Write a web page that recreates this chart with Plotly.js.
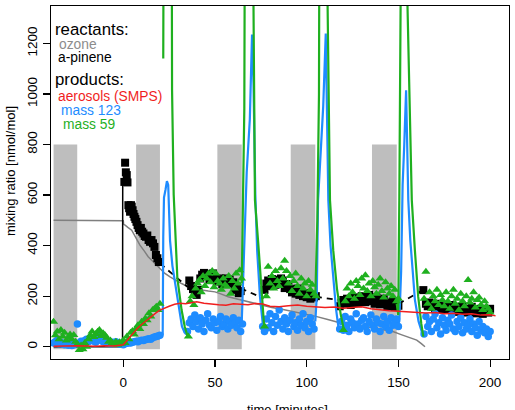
<!DOCTYPE html>
<html>
<head>
<meta charset="utf-8">
<script src="https://cdn.plot.ly/plotly-3.0.1.min.js"></script>
<style>
  html, body { margin: 0; padding: 0; background: #fff; }
  #chart { width: 515px; height: 410px; }
</style>
</head>
<body>
<div id="chart"></div>
<script>
// ---- gray phases (minutes) ----
const bandStart = [-38, 7, 51.3, 91.3, 135.6];
const bandEnd   = [-25.1, 20, 64.6, 104.7, 149.1];
const bandLow = -10, bandHigh = 800;

// ---- ozone (gray line) ----
const ozT = [-38, 0, 0.2, 1, 2.5, 4.6, 7, 9.1, 11.5, 13.6, 15.5, 17.3, 20, 22.7, 25.5, 28.2, 31.8, 35.4, 39, 42.7, 46.4, 50, 53.5, 57.2, 62.6, 68.1, 71.7, 75.4, 81, 86.5, 92, 98.5, 105, 111.5, 118, 125.5, 133, 140, 147, 151.5, 156, 160, 162.5, 164.5];
const ozV = [500, 498, 484, 481, 472, 461, 430, 402, 378, 356, 342, 330, 308, 290, 276, 264, 250, 237, 230, 224, 220, 217, 208, 198, 188, 178, 171, 165, 155, 148, 140, 130, 120, 108, 95, 88, 79, 70, 60, 48, 38, 26, 12, 0];

// ---- a-pinene: injection step, interpolated gaps, measurements ----
const apStepT = [-38, -0.4, -0.3];
const apStepV = [0, 0, 640];
const apGapT = [20, 35, 36, 64, 76.5, 77, 105, 117, 118, 150, 163.5];
const apGapV = [330, 237, null, 231, 191, null, 198, 185, null, 170, 224];

const apT1 = [0.6, 1.0, 1.4, 1.9, 2.3, 2.8, 3.2, 3.7, 4.2, 4.6, 5.1, 5.6, 6.1, 6.6, 7.2, 7.8, 8.4, 9.0, 9.6, 10.3, 11.0, 11.7, 12.4, 13.1, 13.8, 14.6, 15.4, 16.2, 17.0, 17.8, 18.6, 19.4];
const apV1 = [652, 728, 690, 679, 650, 560, 548, 534, 560, 554, 540, 525, 514, 505, 494, 481, 470, 461, 470, 455, 448, 438, 435, 440, 422, 415, 422, 409, 395, 363, 350, 335];
const apT2 = [36, 37, 38, 39, 40, 41, 42, 43, 44, 45, 46, 47, 48, 49, 50, 51, 52, 53, 54, 55, 56, 57, 58, 59, 60, 61, 62, 63, 64];
const apV2 = [262, 240, 228, 218, 205, 225, 270, 285, 292, 280, 288, 265, 282, 290, 272, 258, 266, 270, 248, 262, 270, 258, 266, 250, 255, 225, 238, 212, 220];
const apT3 = [77, 78, 79, 80, 81, 82, 83, 84, 85, 86, 87, 88, 89, 90, 91, 92, 93, 94, 95, 96, 97, 98, 99, 100, 101, 102, 103, 104, 105];
const apV3 = [225, 250, 262, 240, 268, 255, 245, 265, 258, 270, 262, 232, 248, 240, 228, 215, 222, 210, 230, 205, 218, 200, 212, 196, 208, 190, 205, 195, 200];
const apT4 = [118, 119, 120, 121, 122, 123, 124, 125, 126, 127, 128, 129, 130, 131, 132, 133, 134, 135, 136, 137, 138, 139, 140, 141, 142, 143, 144, 145, 146, 147, 148, 149, 150];
const apV4 = [160, 175, 185, 170, 190, 178, 165, 182, 195, 180, 172, 188, 200, 185, 176, 192, 205, 188, 180, 170, 195, 182, 168, 178, 190, 172, 160, 175, 165, 180, 158, 170, 162];
const apT5 = [163.6, 165, 166, 167, 168, 169, 170, 171, 172, 173, 174, 175, 176, 177, 178, 179, 180, 181, 182, 183, 184, 185, 186, 187, 188, 189, 190, 191, 192, 193, 194, 195, 196, 197, 198, 199, 200];
const apV5 = [224, 170, 160, 175, 165, 158, 150, 162, 170, 155, 148, 160, 152, 145, 165, 150, 140, 158, 148, 138, 155, 160, 145, 135, 150, 142, 158, 140, 132, 148, 138, 150, 130, 145, 140, 135, 150];

// ---- aerosols (SMPS), red line ----
const aeT = [-38, -35, -30, -25, -20, -15, -10, -5, 0, 2, 4, 6, 8, 10, 12, 14, 16, 18, 20, 22, 25, 28, 31, 34, 37, 40, 44, 48, 52, 56, 60, 64, 68, 72, 76, 80, 85, 90, 95, 100, 105, 110, 115, 120, 125, 130, 135, 140, 145, 150, 155, 160, 165, 170, 175, 180, 185, 190, 195, 200, 203];
const aeV = [2, 3, 2, 4, 3, 2, 4, 3, 8, 25, 45, 62, 75, 88, 100, 112, 125, 135, 145, 152, 160, 168, 172, 170, 175, 178, 172, 168, 166, 164, 170, 168, 166, 171, 169, 160, 158, 162, 165, 160, 158, 155, 157, 152, 155, 158, 150, 145, 142, 140, 138, 135, 133, 135, 130, 132, 128, 130, 125, 126, 122];

// ---- mass 123 (blue) ----
const m123T0 = [-38, -37, -36, -35, -34, -33, -32, -31, -30, -29, -28, -27, -26, -25, -24, -23, -22, -21, -20, -19, -18, -17, -16, -15, -14, -13, -12, -11, -10, -9, -8, -7, -6, -5, -4, -3, -2, -1, 0, 1, 2, 3, 4, 5, 6, 7, 8, 9, 10, 11, 12, 13, 14, 15, 16, 17, 18, 19, 20];
const m123V0 = [15, 20, 25, 12, 18, 10, 8, 14, 6, 10, 5, 8, 12, 90, 15, 22, 18, 25, 30, 20, 35, 28, 22, 18, 30, 40, 25, 20, 26, 15, 22, 12, 18, 13, 20, 15, 10, 14, 8, 12, 14, 16, 15, 18, 20, 22, 20, 24, 26, 25, 28, 30, 32, 30, 35, 38, 40, 42, 45];
const m123T2 = [35, 36, 37, 38, 39, 40, 41, 42, 43, 44, 45, 46, 47, 48, 49, 50, 51, 52, 53, 54, 55, 56, 57, 58, 59, 60, 61, 62, 63, 64, 65];
const m123V2 = [60, 95, 110, 80, 125, 100, 70, 115, 90, 60, 105, 130, 85, 75, 110, 95, 65, 100, 120, 80, 90, 110, 70, 100, 85, 115, 95, 75, 105, 60, 90];
const m123T3 = [76, 77, 78, 79, 80, 81, 82, 83, 84, 85, 86, 87, 88, 89, 90, 91, 92, 93, 94, 95, 96, 97, 98, 99, 100, 101, 102, 103, 104];
const m123V3 = [80, 60, 110, 75, 130, 95, 60, 120, 85, 145, 100, 70, 115, 90, 60, 105, 125, 80, 95, 65, 110, 85, 130, 75, 100, 60, 115, 90, 70];
const m123T4 = [118, 119, 120, 121, 122, 123, 124, 125, 126, 127, 128, 129, 130, 131, 132, 133, 134, 135, 136, 137, 138, 139, 140, 141, 142, 143, 144, 145, 146, 147, 148, 149, 150];
const m123V4 = [70, 100, 65, 120, 85, 60, 110, 95, 75, 130, 90, 70, 105, 115, 80, 60, 100, 125, 85, 70, 110, 95, 60, 90, 120, 80, 100, 65, 115, 85, 95, 110, 80];
const m123T5 = [164, 165, 166, 167, 168, 169, 170, 171, 172, 173, 174, 175, 176, 177, 178, 179, 180, 181, 182, 183, 184, 185, 186, 187, 188, 189, 190, 191, 192, 193, 194, 195, 196, 197, 198, 199, 200];
const m123V5 = [50, 120, 80, 100, 60, 110, 130, 75, 95, 50, 115, 85, 65, 105, 90, 125, 70, 60, 100, 80, 115, 55, 95, 70, 85, 110, 60, 90, 75, 45, 100, 65, 80, 55, 70, 40, 60];
// flush peaks after each phase
const m123PkT1 = [20, 21.5, 21.8, 22.2, 23, 23.8, 24.5, 25.5, 26.8, 28.5, 30.5, 32, 33.5, 35];
const m123PkV1 = [45, 50, 435, 590, 620, 655, 640, 420, 320, 240, 150, 80, 55, 70];
const m123PkT2 = [64.6, 65.5, 66.5, 67.3, 69, 70.2, 71, 72, 73, 74.5, 76, 77];
const m123PkV2 = [100, 300, 600, 690, 900, 1235, 1040, 600, 380, 200, 95, 70];
const m123PkT3 = [104.7, 105.5, 106.2, 107.5, 109, 110.4, 111.8, 113, 114.5, 116, 117.5, 118.5];
const m123PkV3 = [100, 200, 580, 750, 950, 1239, 580, 400, 270, 150, 66, 80];
const m123PkT4 = [149.1, 150.5, 151.5, 152.3, 153.2, 154.2, 155.4, 156.5, 157.8, 159, 161, 163.6, 164.5];
const m123PkV4 = [80, 100, 300, 640, 800, 1015, 580, 420, 300, 185, 100, 40, 60];

// ---- mass 59 (green) ----
const m59T0 = [-38, -37, -36, -35, -34, -33, -32, -31, -30, -29, -28, -27, -26, -25, -24, -23, -22, -21, -20, -19, -18, -17, -16, -15, -14, -13, -12, -11, -10, -9, -8, -7, -6, -5, -4, -3, -2, -1, 0, 1, 2, 3, 4, 5, 6, 7, 8, 9, 10, 11, 12, 13, 14, 15, 16, 17, 18, 19, 20];
const m59V0 = [99, 45, 60, 30, 66, 40, 55, 25, 35, 48, 30, 46, 20, 10, -13, 5, -10, 15, 0, 30, 45, 60, 38, 50, 59, 66, 42, 53, 46, 35, 20, 25, 15, 10, 20, 8, 18, 12, 26, 15, 40, 30, 55, 62, 48, 72, 85, 70, 99, 90, 112, 105, 132, 120, 145, 150, 158, 145, 170];
const m59T2 = [35.5, 36.5, 37.5, 38.5, 39.5, 40.5, 41.5, 42.5, 43.5, 44.5, 45.5, 46.5, 47.5, 48.5, 49.5, 50.5, 51.5, 52.5, 53.5, 54.5, 55.5, 56.5, 57.5, 58.5, 59.5, 60.5, 61.5, 62.5, 63.5, 64.5];
const m59V2 = [40, 180, 200, 165, 230, 250, 264, 215, 280, 240, 270, 290, 255, 300, 235, 290, 260, 250, 225, 270, 245, 237, 280, 210, 260, 230, 290, 250, 303, 270];
const m59T3 = [77, 78, 79, 80, 81, 82, 83, 84, 85, 86, 87, 88, 89, 90, 91, 92, 93, 94, 95, 96, 97, 98, 99, 100, 101, 102, 103, 104, 105];
const m59V3 = [80, 200, 316, 250, 280, 230, 300, 260, 240, 310, 270, 340, 300, 250, 280, 220, 260, 290, 240, 210, 270, 230, 250, 200, 260, 225, 245, 210, 200];
const m59T4 = [120, 121, 122, 123, 124, 125, 126, 127, 128, 129, 130, 131, 132, 133, 134, 135, 136, 137, 138, 139, 140, 141, 142, 143, 144, 145, 146, 147, 148, 149, 150];
const m59V4 = [66, 180, 230, 200, 250, 215, 190, 260, 240, 205, 270, 230, 283, 220, 250, 200, 260, 235, 210, 245, 270, 220, 195, 255, 230, 210, 240, 200, 225, 180, 190];
const m59T5 = [164, 165, 166, 167, 168, 169, 170, 171, 172, 173, 174, 175, 176, 177, 178, 179, 180, 181, 182, 183, 184, 185, 186, 187, 188, 189, 190, 191, 192, 193, 194, 195, 196, 197, 198, 199, 200];
const m59V5 = [190, 297, 170, 215, 150, 200, 180, 225, 165, 205, 185, 160, 215, 180, 150, 200, 225, 170, 190, 145, 210, 180, 160, 200, 264, 175, 190, 215, 155, 185, 195, 165, 145, 180, 160, 150, 135];
const m59PkT1 = [21.8, 22.3, 26.2, 26.6, 27.5, 28.5, 29.5, 31.8, 33.5, 35.3];
const m59PkV1 = [1140, 2500, 2500, 1015, 600, 400, 270, 145, 80, 35];
const m59PkT2 = [64.6, 65.3, 66, 66.6, 70.5, 71, 71.8, 73.6, 75.5, 76.7, 77.8];
const m59PkV2 = [250, 580, 943, 2500, 2500, 1348, 580, 409, 200, 92, 79];
const m59PkT3 = [104.7, 105.8, 106.7, 107.2, 111, 111.4, 112.7, 114.5, 116.5, 118.5, 120.3];
const m59PkV3 = [200, 500, 1000, 2500, 2500, 1348, 580, 380, 230, 130, 66];
const m59PkT4 = [149.1, 149.9, 150.5, 151.2, 151.6, 154.5, 154.8, 157.3, 159, 160.8, 162.5, 163.6];
const m59PkV4 = [170, 125, 580, 1348, 2500, 2500, 1400, 580, 380, 198, 90, 40];

// ---- axis ticks ----
const xTicks = [0, 50, 100, 150, 200];
const yTicks = [0, 200, 400, 600, 800, 1000, 1200];

// ---- helpers ----
const cat = (...arrs) => [].concat(...arrs);
// join segments with a null so each is drawn as a separate piece
function joinSegs(ts, vs) {
  const x = [], y = [];
  ts.forEach((t, i) => {
    if (i > 0) { x.push(t[0]); y.push(null); }
    x.push(...t); y.push(...vs[i]);
  });
  return { x, y };
}

const C = {
  gray: '#7f7f7f', band: '#bebebe', black: '#000000',
  red: '#f01e1e', blue: '#1e8cff', green: '#1fb01f'
};

const blueLine = joinSegs([m123PkT1, m123PkT2, m123PkT3, m123PkT4], [m123PkV1, m123PkV2, m123PkV3, m123PkV4]);
const greenLine = joinSegs([m59PkT1, m59PkT2, m59PkT3, m59PkT4], [m59PkV1, m59PkV2, m59PkV3, m59PkV4]);

const traces = [
  { x: ozT, y: ozV, mode: 'lines', line: { color: C.gray, width: 1.5 } },
  { x: apStepT, y: apStepV, mode: 'lines', line: { color: C.black, width: 1.5 } },
  { x: apGapT, y: apGapV, mode: 'lines', connectgaps: false, line: { color: C.black, width: 1.8, dash: '6px,5px' } },
  { x: cat(apT1, apT2, apT3, apT4, apT5), y: cat(apV1, apV2, apV3, apV4, apV5), mode: 'markers',
    marker: { symbol: 'square', size: 8, color: C.black } },
  { x: blueLine.x, y: blueLine.y, mode: 'lines', connectgaps: false, line: { color: C.blue, width: 2.2 } },
  { x: cat(m123T0, m123T2, m123T3, m123T4, m123T5), y: cat(m123V0, m123V2, m123V3, m123V4, m123V5), mode: 'markers',
    marker: { symbol: 'circle', size: 7.5, color: C.blue } },
  { x: greenLine.x, y: greenLine.y, mode: 'lines', connectgaps: false, line: { color: C.green, width: 2.2 } },
  { x: cat(m59T0, m59T2, m59T3, m59T4, m59T5), y: cat(m59V0, m59V2, m59V3, m59V4, m59V5), mode: 'markers',
    marker: { symbol: 'triangle-up', size: 8, color: C.green } },
  { x: aeT, y: aeV, mode: 'lines', line: { color: C.red, width: 1.5 } }
];

const shapes = bandStart.map((s, i) => ({
  type: 'rect', xref: 'x', yref: 'y', layer: 'below',
  x0: s, x1: bandEnd[i], y0: bandLow, y1: bandHigh,
  fillcolor: C.band, line: { width: 0 }
}));

// pixel -> paper helpers for the text block
const W = 515, H = 410, M = { l: 51, r: 6, t: 6, b: 51 };
const pw = W - M.l - M.r, ph = H - M.t - M.b;
const px = v => (v - M.l) / pw;
const py = v => (H - M.b - v) / ph;

const font = 'Liberation Sans, Arial, Helvetica, sans-serif';
function label(text, x, y, size, color) {
  return { text, xref: 'paper', yref: 'paper', x: px(x), y: py(y), xanchor: 'left', yanchor: 'middle',
    showarrow: false, font: { family: font, size, color } };
}

const annotations = [
  label('reactants:', 53, 29, 16.8, '#000'),
  label('ozone', 57, 44, 13.8, '#8c8c8c'),
  label('a-pinene', 56, 57.5, 13.8, '#000'),
  label('products:', 53, 79, 16.8, '#000'),
  label('aerosols (SMPS)', 56, 96.5, 13.8, C.red),
  label('mass 123', 59, 110.5, 13.8, C.blue),
  label('mass 59', 61, 124.5, 13.8, C.green),
  { text: 'mixing ratio [nmol/mol]', xref: 'paper', yref: 'paper', x: px(10), y: py(171), textangle: -90,
    xanchor: 'center', yanchor: 'middle', showarrow: false, font: { family: font, size: 13, color: '#000' } },
  { text: 'time [minutes]', xref: 'paper', yref: 'paper', x: px(287), y: py(409),
    xanchor: 'center', yanchor: 'middle', showarrow: false, font: { family: font, size: 13, color: '#000' } }
];

const axisCommon = {
  showgrid: false, zeroline: false, showline: true, mirror: true,
  linecolor: '#000', linewidth: 1.4, ticks: 'outside', ticklen: 7, tickwidth: 1.2, tickcolor: '#000',
  tickfont: { family: font, size: 13.5, color: '#000' }, tickmode: 'array'
};

const layout = {
  width: W, height: H, margin: M, showlegend: false,
  paper_bgcolor: '#fff', plot_bgcolor: '#fff',
  xaxis: Object.assign({}, axisCommon, { range: [-39.4, 210.3], tickvals: xTicks, ticklabelstandoff: 3 }),
  yaxis: Object.assign({}, axisCommon, { range: [-48.6, 1348], tickvals: yTicks, tickangle: -90 }),
  shapes, annotations
};

Plotly.newPlot('chart', traces, layout, { staticPlot: true, displayModeBar: false });
</script>
</body>
</html>
